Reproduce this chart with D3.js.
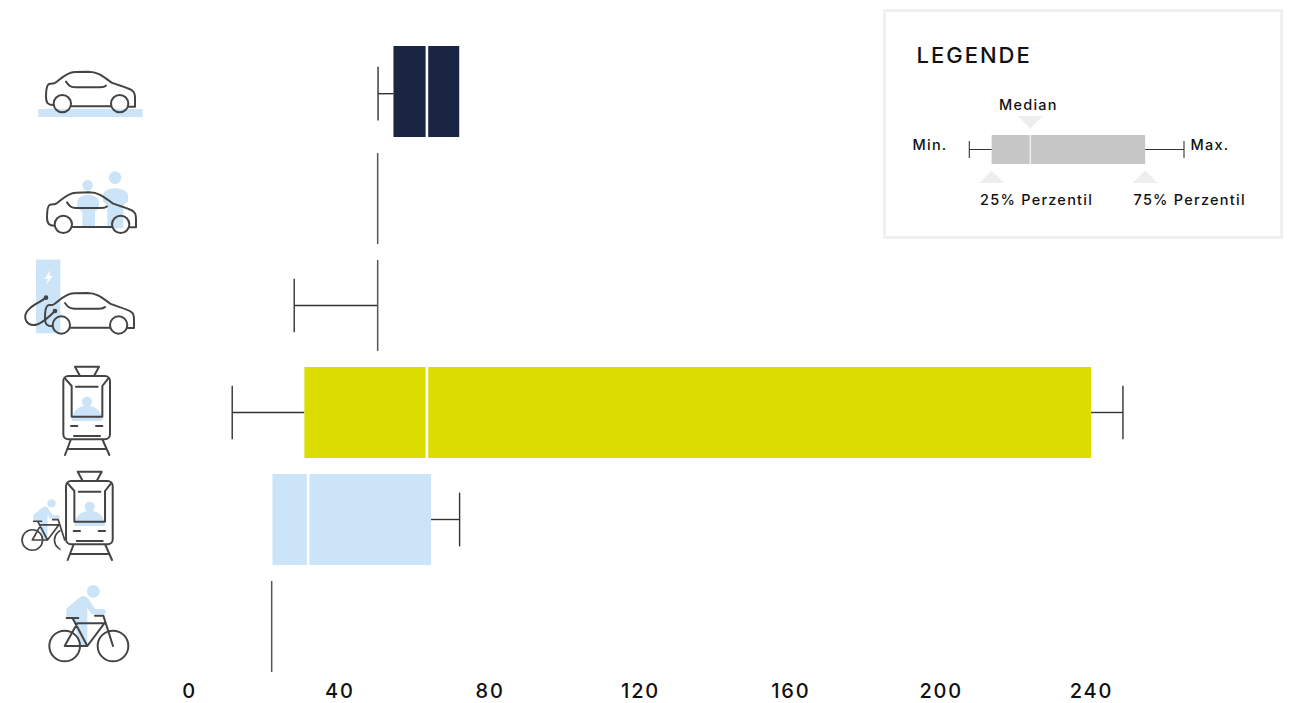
<!DOCTYPE html>
<html>
<head>
<meta charset="utf-8">
<script src="https://cdn.jsdelivr.net/npm/d3@7"></script>
<style>
  html, body { margin: 0; padding: 0; background: #fff; overflow: hidden; }
  text { font-family: Inter, "Open Sans", sans-serif; fill: #111; }
</style>
</head>
<body>
<div id="chart"></div>
<script>
// Data
const modes = ["car", "carpool", "ecar", "tram", "bikeTram", "bike"];
const minValues    = [50.3, 50.2, 28, 11.5, 22.2, 22];
const q1Values     = [54.4, 50.2, 50.2, 30.7, 22.2, 22];
const medianValues = [63.3, 50.2, 50.2, 63.3, 31.7, 22];
const q3Values     = [71.9, 50.2, 50.2, 240, 64.4, 22];
const maxValues    = [71.9, 50.2, 50.2, 248.5, 72, 22];
const boxColors    = ["#1a2543", "#555", "#555", "#dcdc00", "#cce4f8", "#555"];
const xTicks = [0, 40, 80, 120, 160, 200, 240];

// Legend example box, in percent of its whisker length
const legendNames  = ["Min.", "25% Perzentil", "Median", "75% Perzentil", "Max."];
const legendValues = [0, 10.4, 28.4, 81.9, 100];

const width = 1294;
const height = 703;
const lineColor = "#333";
const iconColor = "#444";
const lightBlue = "#cce4f8";

const stats = modes.map((mode, i) => ({
  mode: mode,
  min: minValues[i],
  q1: q1Values[i],
  median: medianValues[i],
  q3: q3Values[i],
  max: maxValues[i],
  color: boxColors[i]
}));

const svg = d3.select("#chart")
  .append("svg")
  .attr("width", width)
  .attr("height", height)
  .style("display", "block");

// Scales
const xScale = d3.scaleLinear().domain([0, 240]).range([189, 1091]);
const yScale = d3.scaleBand()
  .domain(modes)
  .range([46, 672])
  .paddingInner(16 / 107)
  .paddingOuter(0);
const band = yScale.bandwidth();
const capHeight = band * 0.59;

// Axis, kept just high enough for the text box to stay inside the page
const axis = svg.append("g")
  .attr("transform", "translate(0,672)")
  .call(d3.axisBottom(xScale).tickValues(xTicks).tickSize(0).tickPadding(11.5));
axis.select(".domain").remove();
axis.selectAll("text")
  .attr("font-size", 20)
  .style("font-family", "Inter, sans-serif")
  .style("font-weight", 500)
  .style("letter-spacing", "1.8px")
  .attr("fill", "#111");

// Boxplots
const rows = svg.selectAll(".row")
  .data(stats)
  .enter()
  .append("g")
  .attr("class", "row")
  .attr("transform", d => `translate(0,${yScale(d.mode)})`);

// the whisker of the first row sits a bit lower than the middle of its box
const whiskerY = d => band / 2 + (d.mode === "car" ? 2.2 : 0);

function whisker(selection, from, to) {
  selection.append("line")
    .attr("x1", d => xScale(from(d)))
    .attr("x2", d => xScale(to(d)))
    .attr("y1", whiskerY).attr("y2", whiskerY)
    .attr("stroke", lineColor).attr("stroke-width", 1.4);
  selection.append("line")
    .attr("x1", d => xScale(from(d)))
    .attr("x2", d => xScale(from(d)))
    .attr("y1", d => whiskerY(d) - capHeight / 2)
    .attr("y2", d => whiskerY(d) + capHeight / 2)
    .attr("stroke", lineColor).attr("stroke-width", 1.4);
}

rows.filter(d => d.min < d.q1).call(whisker, d => d.min, d => d.q1);
rows.filter(d => d.max > d.q3).call(whisker, d => d.max, d => d.q3);

// boxes
const wide = rows.filter(d => d.q1 !== d.q3);
wide.append("rect")
  .attr("x", d => xScale(d.q1))
  .attr("y", 0)
  .attr("width", d => xScale(d.q3) - xScale(d.q1))
  .attr("height", band)
  .attr("fill", d => d.color);

wide.append("line")
  .attr("x1", d => xScale(d.median))
  .attr("x2", d => xScale(d.median))
  .attr("y1", 0).attr("y2", band)
  .attr("stroke", "#fff").attr("stroke-width", 2.6);

// a box with no width is just a line
rows.filter(d => d.q1 === d.q3).append("line")
  .attr("x1", d => xScale(d.median))
  .attr("x2", d => xScale(d.median))
  .attr("y1", 0).attr("y2", band)
  .attr("stroke", d => d.color).attr("stroke-width", 1.5);

/*

  Icons, drawn at 3x and scaled down

*/

const carBody = "M160,195 C145,195 138,190 138,170 C138,150 140,135 147,132 L163,130 C175,125 195,97 225,96 L265,95 C295,95 310,110 335,128 C350,135 385,142 398,153 C405,158 405,165 405,175 L405,200 L385,200 M215,199 L333,199 M198,125 C205,135 210,142 225,142 L300,142 C310,142 315,140 318,137";

function icon(dx, dy) {
  return svg.append("g")
    .attr("transform", `translate(${dx},${dy}) scale(${1 / 3})`)
    .attr("fill", "none")
    .attr("stroke", iconColor)
    .attr("stroke-width", 6)
    .attr("stroke-linecap", "round")
    .attr("stroke-linejoin", "round");
}

function drawCar(g) {
  g.append("path").attr("d", carBody);
  g.append("circle").attr("cx", 187).attr("cy", 191).attr("r", 26);
  g.append("circle").attr("cx", 359).attr("cy", 191).attr("r", 26);
}

function person(g, cx, head, r, left, right, top, legL, legR, bottom) {
  g.append("circle").attr("cx", cx).attr("cy", head).attr("r", r)
    .attr("fill", lightBlue).attr("stroke", "none");
  g.append("path")
    .attr("d", `M${left},${top + 22} C${left},${top + 6} ${cx - 15},${top} ${cx},${top} C${cx + 15},${top} ${right},${top + 6} ${right},${top + 22} L${right},${top + 40} L${legR},${top + 50} L${legR},${bottom} L${legL},${bottom} L${legL},${top + 50} L${left},${top + 40} Z`)
    .attr("fill", lightBlue).attr("stroke", "none");
}

function drawTram(g) {
  g.append("circle").attr("cx", 261).attr("cy", 155).attr("r", 15)
    .attr("fill", lightBlue).attr("stroke", "none");
  g.append("path")
    .attr("d", "M218,200 C222,178 240,167 261,167 C282,167 300,178 305,200 L307,213 L215,213 Z")
    .attr("fill", lightBlue).attr("stroke", "none");
  g.append("path").attr("d", "M225,50 L297,50 L282,78 L240,78 Z");
  g.append("rect").attr("x", 190).attr("y", 78).attr("width", 140).attr("height", 190).attr("rx", 15);
  g.append("path").attr("d", "M215,108 L215,200 L307,200 L307,108 M228,110 L293,110 M195,85 L215,108 M325,85 L307,108");
  g.append("path").attr("d", "M213,228 L232,228 M288,228 L307,228 M222,258 L300,258");
  g.append("path").attr("d", "M212,270 L195,315 M308,270 L328,315 M205,297 L318,297");
}

function drawBike(g) {
  g.append("circle").attr("cx", 280).attr("cy", 724).attr("r", 19)
    .attr("fill", lightBlue).attr("stroke", "none");
  g.append("path")
    .attr("d", "M198,790 L200,775 L240,742 C250,735 258,738 264,745 L285,777 L310,777 C320,777 320,793 310,793 L275,793 L262,775 L262,885 L240,885 L222,815 L200,800 Z")
    .attr("fill", lightBlue).attr("stroke", "none");
  g.append("circle").attr("cx", 194).attr("cy", 888).attr("r", 46);
  g.append("circle").attr("class", "rear").attr("cx", 339).attr("cy", 888).attr("r", 46);
  g.append("path").attr("d", "M194,888 L232,820 L313,820 L262,888 Z M218,805 L262,888 M200,804 L235,804 M285,797 L310,797 L339,888");
}

// car on the road
const roadCar = icon(0, 40);
roadCar.append("rect").attr("x", 115).attr("y", 207).attr("width", 313).attr("height", 24)
  .attr("fill", lightBlue).attr("stroke", "none");
drawCar(roadCar);

// shared car
const sharedCar = icon(1, 160.7);
person(sharedCar, 260, 74, 16, 229, 294, 103, 244, 282, 203);
person(sharedCar, 342, 51, 19, 306, 381, 83, 319, 367, 203);
drawCar(sharedCar);

// electric car
const eCar = icon(-1, 261.3);
eCar.append("rect").attr("x", 111).attr("y", -5).attr("width", 73).attr("height", 221)
  .attr("fill", lightBlue).attr("stroke", "none");
eCar.append("path").attr("d", "M155,26 L136,53 L147,53 L141,71 L161,43 L150,43 Z")
  .attr("fill", "#fff").attr("stroke", "none");
eCar.append("path").attr("d", "M141,109 C120,126 85,136 79,161 C76,186 96,196 116,189 C136,181 151,166 168,149");
eCar.append("circle").attr("cx", 141).attr("cy", 109).attr("r", 4).attr("fill", iconColor);
eCar.append("circle").attr("cx", 168).attr("cy", 149).attr("r", 4).attr("fill", iconColor);
drawCar(eCar);

// tram
drawTram(icon(0, 350));

// bike and tram, the tram hides most of the front wheel
svg.append("clipPath").attr("id", "rear-clip").append("rect")
  .attr("x", 0).attr("y", 0).attr("width", 321).attr("height", 1200);
const smallBike = icon(0, 350).append("g")
  .attr("transform", "translate(97,570) scale(0.67) translate(-194,-888)")
  .attr("stroke-width", 7.5);
drawBike(smallBike);
smallBike.select(".rear").attr("clip-path", "url(#rear-clip)");
drawTram(icon(2.7, 455));

// bike
drawBike(icon(0, 350));

/*

  Legend

*/

svg.append("rect")
  .attr("x", 884.5).attr("y", 10.5)
  .attr("width", 397).attr("height", 227)
  .attr("fill", "#fff")
  .attr("stroke", "#f0f0f0").attr("stroke-width", 3);

svg.append("text")
  .attr("x", 916.5).attr("y", 63)
  .attr("font-size", 22)
  .style("font-weight", 500)
  .style("letter-spacing", "2px")
  .text("LEGENDE");

const legendX = d3.scaleLinear().domain([0, 100]).range([969.3, 1184]);
const [lMin, lQ1, lMed, lQ3, lMax] = legendValues.map(legendX);
const legendY = 149.5;

svg.append("line")
  .attr("x1", lMin).attr("x2", lMax).attr("y1", legendY).attr("y2", legendY)
  .attr("stroke", lineColor).attr("stroke-width", 1.1);
[lMin, lMax].forEach(x => {
  svg.append("line")
    .attr("x1", x).attr("x2", x).attr("y1", legendY - 8.5).attr("y2", legendY + 8.5)
    .attr("stroke", lineColor).attr("stroke-width", 1.1);
});
svg.append("rect")
  .attr("x", lQ1).attr("y", 135)
  .attr("width", lQ3 - lQ1).attr("height", 29)
  .attr("fill", "#c6c6c6");
svg.append("line")
  .attr("x1", lMed).attr("x2", lMed).attr("y1", 135).attr("y2", 164)
  .attr("stroke", "#eee").attr("stroke-width", 1.6);

// pointers
function pointer(x, y, size, flip) {
  svg.append("path")
    .attr("d", `M${-size},0 L${size},0 L0,${flip ? size : -size} Z`)
    .attr("transform", `translate(${x},${y})`)
    .attr("fill", "#eeeeee");
}
pointer(lMed, 116, 12.5, true);
pointer(lQ1, 183, 12.5, false);
pointer(lQ3, 183, 12.5, false);

function legendLabel(i, x, y) {
  svg.append("text")
    .attr("x", x).attr("y", y)
    .attr("font-size", 14.5)
    .style("font-weight", 500)
    .style("letter-spacing", "1.25px")
    .text(legendNames[i]);
}
legendLabel(0, 912.5, 150);
legendLabel(1, 980, 205);
legendLabel(2, 999, 110);
legendLabel(3, 1133.5, 205);
legendLabel(4, 1190.5, 150);
</script>
</body>
</html>
